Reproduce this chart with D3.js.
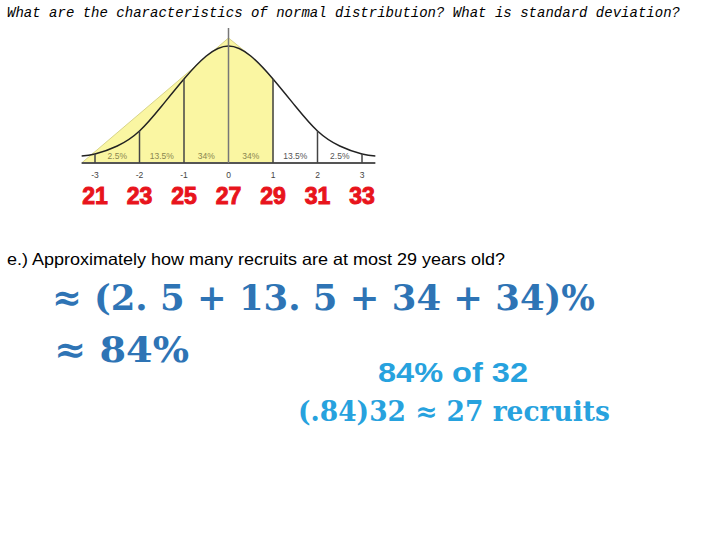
<!DOCTYPE html>
<html><head><meta charset="utf-8">
<script src="https://cdn.jsdelivr.net/npm/d3@7"></script>
<style>body{margin:0;background:#fff}</style>
</head><body>
<svg width="720" height="540"></svg>
<script>
// curve heights (pixel y at each z)
var curveZ = [-3.3, -3, -2.5, -2, -1.5, -1, -0.5, 0, 0.5, 1, 1.5, 2, 2.5, 3, 3.3];
var curveY = [156, 154, 146, 131, 106, 79, 56, 46, 56, 79, 106, 131, 146, 154, 156];
var sdTicks = [-3, -2, -1, 0, 1, 2, 3];
var ageLabels = ["21", "23", "25", "27", "29", "31", "33"];
var bandLabels = ["2.5%", "13.5%", "34%", "34%", "13.5%", "2.5%"];
var shadedTo = 1;

var svg = d3.select("svg");
var x = d3.scaleLinear().domain([-3, 3]).range([95, 362]);
var pts = curveZ.map(function (z, i) { return [z, curveY[i]]; });
function yAt(z) { // look up curve y at a tick
  var i = curveZ.indexOf(z); return curveY[i];
}
var base = 163;

// yellow fill: straight edge on the left, curve on the right
var fillPts = [[x(-3.3), base], [x(0), 38]]
  .concat(pts.filter(function (p) { return p[0] > 0 && p[0] <= shadedTo; }).map(function (p) { return [x(p[0]), p[1]]; }))
  .concat([[x(shadedTo), base]]);
svg.append("path")
  .attr("d", d3.line().curve(d3.curveLinear)(fillPts))
  .attr("fill", "#faf6a2").attr("stroke", "#d8d48a");

// curve
svg.append("path")
  .attr("d", d3.line().x(function (d) { return x(d[0]); }).y(function (d) { return d[1]; }).curve(d3.curveNatural)(pts))
  .attr("fill", "none").attr("stroke", "#222").attr("stroke-width", 1.5);

// axis line
svg.append("line").attr("x1", x(-3.3)).attr("x2", x(3.3)).attr("y1", base).attr("y2", base)
  .attr("stroke", "#555").attr("stroke-width", 2);
// center line
svg.append("line").attr("x1", x(0)).attr("x2", x(0)).attr("y1", 28).attr("y2", base)
  .attr("stroke", "#777").attr("stroke-width", 1.5);

// band dividers
svg.selectAll(".div").data(sdTicks.filter(function (t) { return t !== 0; })).enter().append("line")
  .attr("x1", function (d) { return x(d); }).attr("x2", function (d) { return x(d); })
  .attr("y1", function (d) { return yAt(d); }).attr("y2", base)
  .attr("stroke", "#444").attr("stroke-width", 1.5);

// band labels
svg.selectAll(".band").data(bandLabels).enter().append("text")
  .attr("x", function (d, i) { return x(sdTicks[i] + 0.5); }).attr("y", 159)
  .attr("text-anchor", "middle").attr("font-family", "Arial, Liberation Sans").attr("font-size", 8.5)
  .attr("fill", function (d, i) { return sdTicks[i] < shadedTo ? "#8a8650" : "#555"; })
  .text(function (d) { return d; });

// sd tick labels
svg.selectAll(".sd").data(sdTicks).enter().append("text")
  .attr("x", function (d) { return x(d); }).attr("y", 178)
  .attr("text-anchor", "middle").attr("font-family", "Arial, Liberation Sans").attr("font-size", 8.5)
  .attr("fill", "#444").text(function (d) { return d; });

// ages
svg.selectAll(".age").data(ageLabels).enter().append("text")
  .attr("x", function (d, i) { return x(sdTicks[i]); }).attr("y", 204)
  .attr("text-anchor", "middle").attr("font-family", "Liberation Sans, Arial")
  .attr("font-weight", "bold").attr("font-size", 23).attr("fill", "#e8141c")
  .attr("stroke", "#e8141c").attr("stroke-width", 1)
  .text(function (d) { return d; });

// title
svg.append("text").attr("x", 7).attr("y", 17)
  .attr("font-family", "Liberation Mono, Courier New, monospace").attr("font-style", "italic").attr("font-size", 13.8)
  .attr("textLength", 673).attr("lengthAdjust", "spacingAndGlyphs")
  .text("What are the characteristics of normal distribution? What is standard deviation?");

// question
svg.append("text").attr("x", 7).attr("y", 265)
  .attr("font-family", "Liberation Sans, Arial").attr("font-size", 16.5)
  .attr("textLength", 498).attr("lengthAdjust", "spacingAndGlyphs")
  .text("e.) Approximately how many recruits are at most 29 years old?");

var math = "DejaVu Serif, Liberation Serif, serif";
svg.append("text").attr("x", 52).attr("y", 310)
  .attr("font-family", math).attr("font-weight", "bold").attr("font-size", 36).attr("fill", "#2e74b5")
  .attr("textLength", 543).attr("lengthAdjust", "spacingAndGlyphs")
  .text("≈ (2. 5 + 13. 5 + 34 + 34)%");
svg.append("text").attr("x", 54).attr("y", 362)
  .attr("font-family", math).attr("font-weight", "bold").attr("font-size", 36).attr("fill", "#2e74b5")
  .attr("textLength", 135).attr("lengthAdjust", "spacingAndGlyphs")
  .text("≈ 84%");
svg.append("text").attr("x", 378).attr("y", 382)
  .attr("font-family", "Liberation Sans, Arial").attr("font-weight", "bold").attr("font-size", 28).attr("fill", "#27a2de")
  .attr("textLength", 150).attr("lengthAdjust", "spacingAndGlyphs")
  .text("84% of 32");
svg.append("text").attr("x", 298).attr("y", 421)
  .attr("font-family", math).attr("font-weight", "bold").attr("font-size", 27).attr("fill", "#27a2de")
  .attr("textLength", 312).attr("lengthAdjust", "spacingAndGlyphs")
  .text("(.84)32 ≈ 27 recruits");
</script>
</body></html>
